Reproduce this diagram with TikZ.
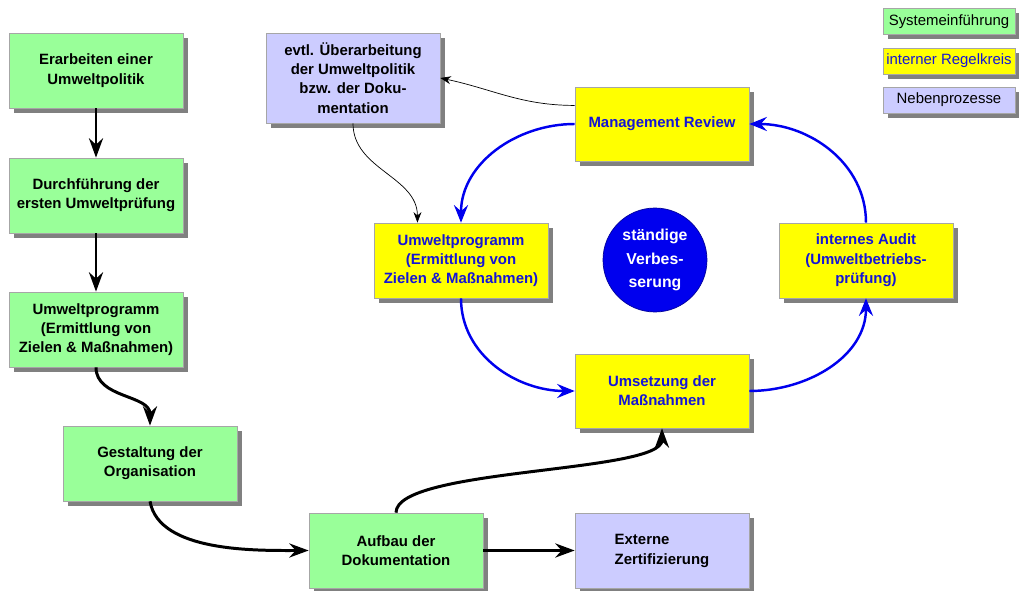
\documentclass[tikz,border=0pt]{standalone}
\usepackage{fontspec}
\setmainfont{Liberation Sans}
\usetikzlibrary{arrows.meta,shadows,positioning}

\definecolor{boxgreen}{RGB}{153,255,153}
\definecolor{boxyellow}{RGB}{255,255,0}
\definecolor{boxlilac}{RGB}{204,204,255}
\definecolor{loopblue}{RGB}{0,0,238}
\definecolor{textblue}{RGB}{20,20,215}

\begin{document}
\begin{tikzpicture}[x=0.02cm,y=0.02cm,
    box/.style={rectangle,draw=gray!70,thin,align=center,
      minimum width=3.48cm,minimum height=1.5cm,inner sep=2pt,
      font=\bfseries\fontsize{8.5}{11}\selectfont,
      drop shadow={shadow xshift=0.1cm,shadow yshift=-0.1cm,fill=black!50,opacity=1}},
    keybox/.style={rectangle,draw=gray!70,thin,
      minimum width=2.64cm,minimum height=0.52cm,inner sep=1pt,
      font=\fontsize{8.5}{10}\selectfont,
      drop shadow={shadow xshift=0.1cm,shadow yshift=-0.1cm,fill=black!50,opacity=1}},
    flow/.style={line width=1.7pt,-{Stealth[length=11pt,width=8pt]}},
    side/.style={thin,-{Stealth[length=6pt,width=4.5pt]}},
    cycle/.style={loopblue,line width=1.4pt,-{Stealth[length=10pt,width=8pt,inset=3.5pt]}}]
		\useasboundingbox (0,0) rectangle (1019,-591);

		% Systemeinfuehrung
		\begin{scope}[every node/.style={box,fill=boxgreen}]
			\node (politik) at (96,-70.5) {Erarbeiten einer\\Umweltpolitik};
			\node (pruefung) at (96,-195.5) {Durchführung der\\ersten Umweltprüfung};
			\node (programm) at (96,-329.5) {Umweltprogramm\\(Ermittlung von\\Zielen \& Maßnahmen)};
			\node (orga) at (150,-463.5) {Gestaltung der\\Organisation};
			\node (doku) at (396,-550.5) {Aufbau der\\Dokumentation};
		\end{scope}

		% Nebenprozesse
		\begin{scope}[every node/.style={box,fill=boxlilac}]
			\node (zert) at (662,-550.5) {\begin{tabular}{@{}l@{}}Externe\\Zertifizierung\end{tabular}};
			\node[minimum height=1.8cm] (ueber) at (353,-78) {evtl. Überarbeitung\\der Umweltpolitik\\bzw. der Doku-\\mentation};
		\end{scope}

		% interner Regelkreis
		\begin{scope}[every node/.style={box,fill=boxyellow,text=textblue}]
			\node[minimum height=1.48cm] (review) at (662,-124) {Management Review};
			\node (zielprog) at (461,-260.5) {Umweltprogramm\\(Ermittlung von\\Zielen \& Maßnahmen)};
			\node (audit) at (866,-260.5) {internes Audit\\(Umweltbetriebs-\\prüfung)};
			\node[minimum height=1.48cm] (umsetz) at (662,-391) {Umsetzung der\\Maßnahmen};
		\end{scope}

		\node[circle,fill=loopblue,draw=blue!60!black,thin,minimum size=2.08cm,inner sep=0pt,
			text=white,align=center,font=\bfseries\fontsize{9}{13.5}\selectfont]
			(kern) at (655,-260) {ständige\\Verbes-\\serung};

		% Legende
		\node[keybox,fill=boxgreen] (keyA) at (949,-21.5) {Systemeinführung};
		\node[keybox,fill=boxyellow,text=textblue] (keyB) at (949,-61) {interner Regelkreis};
		\node[keybox,fill=boxlilac] (keyC) at (949,-100) {Nebenprozesse};

		\begin{scope}
			\draw[flow] (politik) -- (pruefung);
			\draw[flow] (pruefung) -- (programm);
			\draw[flow] (programm.south) to[out=-90,in=90] (orga.north);
			\draw[flow] (orga.south) to[out=-80,in=180,looseness=0.8] (doku.west);
			\draw[flow] (doku.north) .. controls +(0,45) and +(0,-45) .. (umsetz.south);
			\draw[flow] (doku) -- (zert);
		\end{scope}

		\begin{scope}
			\draw[side] (review.168) to[out=180,in=-12] (ueber.east);
			\draw[side] (ueber.south) to[out=-90,in=90] (zielprog.139);
		\end{scope}

		\begin{scope}
			\draw[cycle] (review.west) to[out=180,in=90] (zielprog.north);
			\draw[cycle] (zielprog.south) to[out=-90,in=180] (umsetz.west);
			\draw[cycle] (umsetz.east) to[out=0,in=-90] (audit.south);
			\draw[cycle] (audit.north) to[out=90,in=0] (review.east);
		\end{scope}
	\end{tikzpicture}
\end{document}
